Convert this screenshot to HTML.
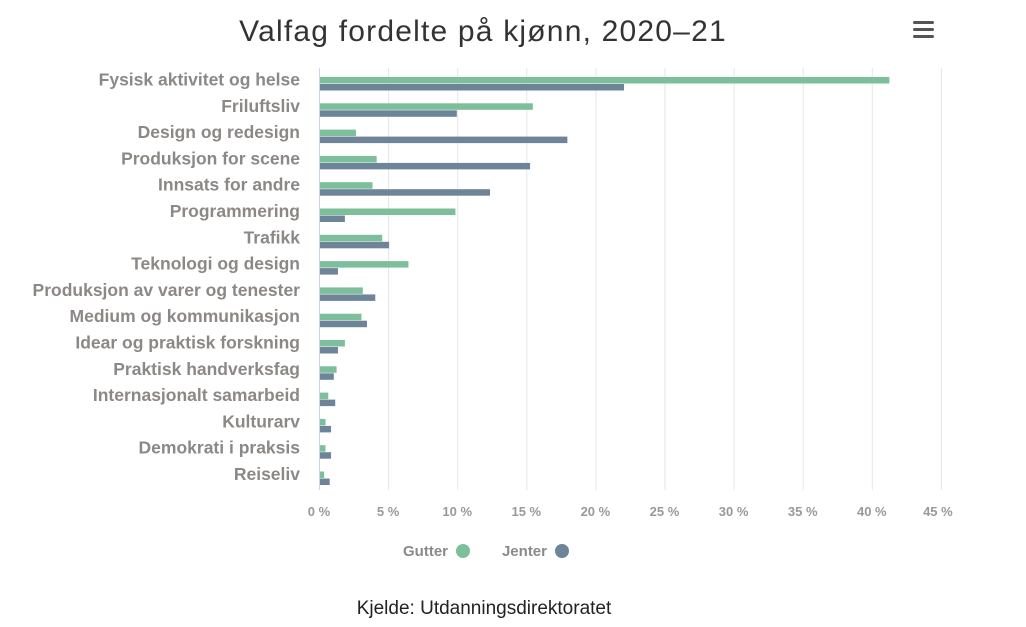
<!DOCTYPE html>
<html><head><meta charset="utf-8"><style>
body{margin:0;background:#fff;}
svg{display:block;font-family:"Liberation Sans","DejaVu Sans",sans-serif;}
</style></head><body>
<svg width="1026" height="627" xmlns="http://www.w3.org/2000/svg">
<text x="483" y="41" text-anchor="middle" font-size="30" letter-spacing="1.2" fill="#333">Valfag fordelte på kjønn, 2020–21</text>
<g fill="#555"><rect x="913" y="21" width="21" height="3" rx="1.5"/><rect x="913" y="28" width="21" height="3" rx="1.5"/><rect x="913" y="35" width="21" height="3" rx="1.5"/></g>
<g id="grid" stroke="#e6e6e6" stroke-width="1"></g>
<line x1="319.5" y1="68" x2="319.5" y2="490" stroke="#ccd6eb"/>
<g id="bars"></g>
<g id="labels" font-size="17.5" font-weight="bold" fill="#8c8885" text-anchor="end"></g>
<g id="ticks" font-size="13" font-weight="bold" fill="#999" text-anchor="middle"></g>
<text x="448" y="556" font-size="15" font-weight="bold" fill="#8a8a8a" text-anchor="end">Gutter</text>
<circle cx="463" cy="551" r="7" fill="#7dbf9b"/>
<text x="547" y="556" font-size="15" font-weight="bold" fill="#8a8a8a" text-anchor="end">Jenter</text>
<circle cx="562" cy="551" r="7" fill="#6d8499"/>
<text x="484" y="614" font-size="19" fill="#222" text-anchor="middle">Kjelde: Utdanningsdirektoratet</text>
</svg>
<script>
const ns="http://www.w3.org/2000/svg";
const d=[["Fysisk aktivitet og helse",41.2,22.0],["Friluftsliv",15.4,9.9],["Design og redesign",2.6,17.9],["Produksjon for scene",4.1,15.2],["Innsats for andre",3.8,12.3],["Programmering",9.8,1.8],["Trafikk",4.5,5.0],["Teknologi og design",6.4,1.3],["Produksjon av varer og tenester",3.1,4.0],["Medium og kommunikasjon",3.0,3.4],["Idear og praktisk forskning",1.8,1.3],["Praktisk handverksfag",1.2,1.0],["Internasjonalt samarbeid",0.6,1.1],["Kulturarv",0.4,0.8],["Demokrati i praksis",0.4,0.8],["Reiseliv",0.3,0.7]];
const x0=320,k=13.82;
function el(t,a,p,txt){const e=document.createElementNS(ns,t);for(const q in a)e.setAttribute(q,a[q]);if(txt)e.textContent=txt;document.getElementById(p).appendChild(e);}
for(let i=1;i<=9;i++){const x=319.5+i*5*k;el("line",{x1:x,x2:x,y1:68,y2:490},"grid");}
for(let i=0;i<=9;i++){el("text",{x:319+i*5*k+(i==9?-3:0),y:516},"ticks",(i*5)+" %");}
d.forEach((r,i)=>{const c=84+i*26.3;
el("rect",{x:x0,y:c-7,width:r[1]*k,height:6.5,fill:"#7dbf9b"},"bars");
el("rect",{x:x0,y:c,width:r[2]*k,height:6.5,fill:"#6d8499"},"bars");
el("text",{x:300,y:c+1.5},"labels",r[0]);});
</script>
</body></html>
